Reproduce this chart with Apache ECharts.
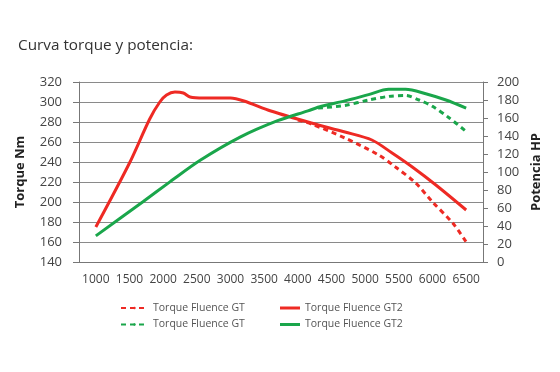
<!DOCTYPE html>
<html>
<head>
<meta charset="utf-8">
<script src="https://cdn.jsdelivr.net/npm/echarts@6/dist/echarts.min.js"></script>
<style>
html,body{margin:0;padding:0;background:#fff;}
#c{width:560px;height:372px;}
</style>
</head>
<body>
<div id="c"></div>
<script>
var titleText = 'Curva torque y potencia:';
var rpmCategories = ['1000','1500','2000','2500','3000','3500','4000','4500','5000','5500','6000','6500'];

// Torque Fluence GT2 (Nm, solid red)
var rpmTorqueGT2 = [1000, 1500, 1800, 1950, 2050, 2175, 2300, 2400, 2600, 3000, 3200, 3600, 4200, 4700, 5100, 5400, 5700, 6050, 6500];
var torqueGT2    = [175,  239,  283,  300,  307,  310,  309,  305,  304,  304,  301,  291,  279,  270,  262,  249,  235,  217,  192];

// Torque Fluence GT (Nm, dashed red)
var rpmTorqueGT = [4000, 4200, 4700, 5200, 5450, 5750, 6000, 6300, 6500];
var torqueGT    = [282,  278,  264,  247,  235,  219,  200,  179,  160];

// Power Fluence GT2 (HP, solid green)
var rpmPowerGT2 = [1000, 1700, 2100, 2550, 3150, 3700, 4150, 4350, 4700, 5050, 5350, 5600, 5900, 6200, 6500];
var powerGT2    = [29,   67,   89,   113,  139,  157,  168,  173,  179,  186,  192,  192,  187,  180,  171];

// Power Fluence GT (HP, dashed green)
var rpmPowerGT = [4300, 4700, 5050, 5350, 5600, 5800, 6000, 6250, 6500];
var powerGT    = [171,  174,  180,  184,  185,  180,  173,  160,  145];

var legendNames = {tGT: 'Torque Fluence GT', tGT2: 'Torque Fluence GT2', pGT: 'Torque Fluence GT', pGT2: 'Torque Fluence GT2'};

function pairs(xs, ys){ return xs.map(function(x,i){ return [x, ys[i]]; }); }

var RED = '#ee2a24', GREEN = '#1aa64b';
var FONT = 'Open Sans';
var chart = echarts.init(document.getElementById('c'), null, {renderer:'canvas'});
var legendText = {color:'#555', fontSize:10.5, fontFamily:FONT};
chart.setOption({
  animation:false,
  title:{text:titleText, left:13, top:33, textStyle:{fontSize:15.3, fontWeight:'normal', color:'#333', fontFamily:FONT}},
  grid:{left:79, right:77, top:82, bottom:110},
  legend:[
    {orient:'vertical', left:120, top:302.5, padding:0, itemWidth:27, itemHeight:3, itemGap:5.5, itemTextGap:4,
     data:['tGT','pGT'], formatter:function(n){return legendNames[n];}, textStyle:legendText, selectedMode:false},
    {orient:'vertical', left:280, top:302.5, padding:0, itemWidth:20, itemHeight:3, itemGap:5.5, itemTextGap:7, icon:'rect',
     data:['tGT2','pGT2'], formatter:function(n){return legendNames[n];}, textStyle:legendText, selectedMode:false}
  ],
  xAxis:[
    {type:'category', data:rpmCategories, boundaryGap:true,
     axisLine:{lineStyle:{color:'#777'}}, axisTick:{length:6, interval:0, lineStyle:{color:'#777'}},
     axisLabel:{color:'#444', fontSize:12, margin:12, interval:0, fontFamily:FONT}},
    {type:'value', min:750, max:6750, show:false}
  ],
  yAxis:[
    {type:'value', min:140, max:320, interval:20, name:'Torque Nm', nameLocation:'middle', nameGap:52,
     nameTextStyle:{fontSize:13, fontWeight:'bold', color:'#222', fontFamily:FONT},
     axisLine:{show:true, lineStyle:{color:'#777'}}, axisTick:{show:true, length:6, lineStyle:{color:'#777'}},
     axisLabel:{color:'#444', fontSize:13, margin:17, fontFamily:FONT},
     splitLine:{lineStyle:{color:'#8a8a8a'}}},
    {type:'value', min:0, max:200, interval:20, position:'right', name:'Potencia HP', nameLocation:'middle', nameGap:47,
     nameTextStyle:{fontSize:13, fontWeight:'bold', color:'#222', fontFamily:FONT},
     axisLine:{show:true, lineStyle:{color:'#777'}}, axisTick:{show:true, length:5, lineStyle:{color:'#777'}},
     axisLabel:{color:'#444', fontSize:13, margin:14, fontFamily:FONT},
     splitLine:{show:false}}
  ],
  series:[
    {name:'tGT', type:'line', xAxisIndex:1, yAxisIndex:0, data:pairs(rpmTorqueGT, torqueGT), smooth:0.3, symbol:'none',
     lineStyle:{color:RED, width:3, type:[5,4]}, itemStyle:{color:RED}},
    {name:'pGT', type:'line', xAxisIndex:1, yAxisIndex:1, data:pairs(rpmPowerGT, powerGT), smooth:0.3, symbol:'none',
     lineStyle:{color:GREEN, width:3, type:[5,4]}, itemStyle:{color:GREEN}},
    {name:'tGT2', type:'line', xAxisIndex:1, yAxisIndex:0, data:pairs(rpmTorqueGT2, torqueGT2), smooth:0.3, symbol:'none',
     lineStyle:{color:RED, width:3}, itemStyle:{color:RED}},
    {name:'pGT2', type:'line', xAxisIndex:1, yAxisIndex:1, data:pairs(rpmPowerGT2, powerGT2), smooth:0.3, symbol:'none',
     lineStyle:{color:GREEN, width:3}, itemStyle:{color:GREEN}}
  ]
});
</script>
</body>
</html>
